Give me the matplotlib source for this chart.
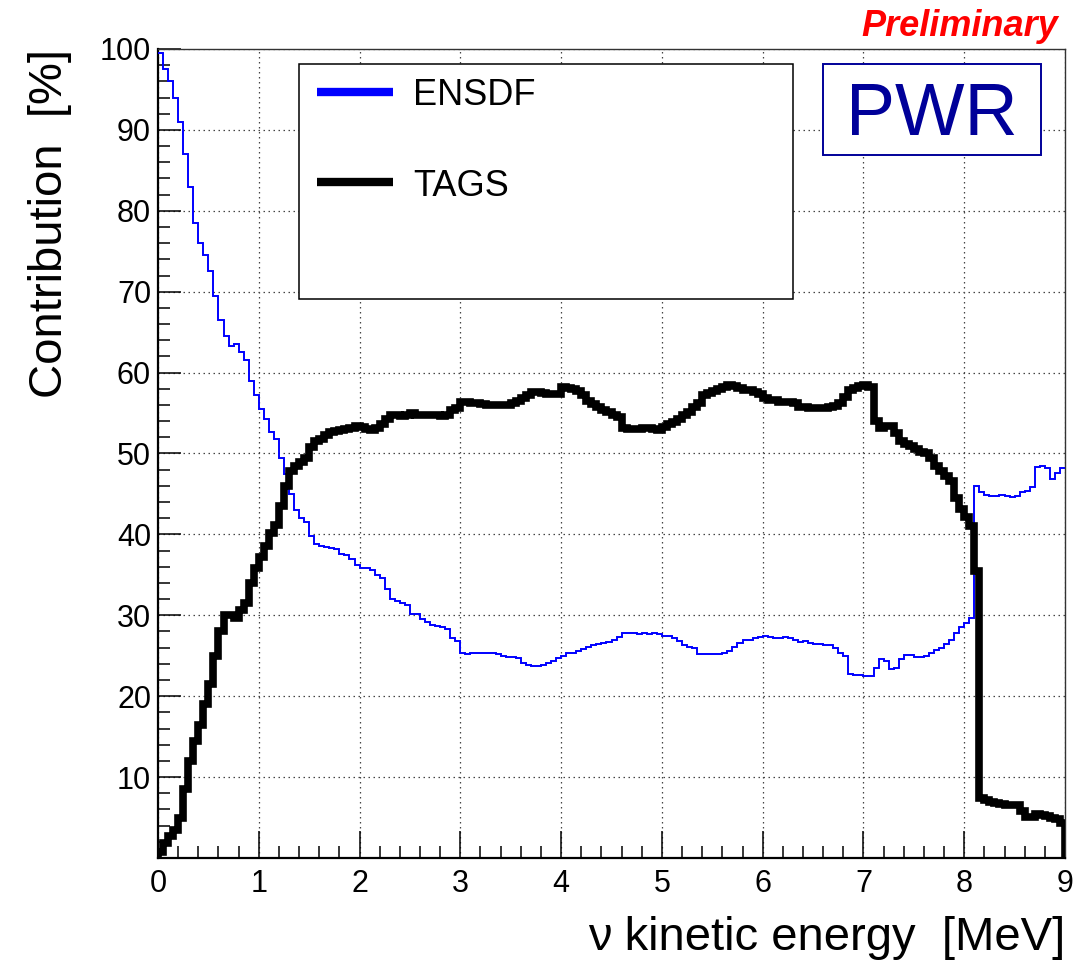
import matplotlib
matplotlib.use("Agg")
import matplotlib.pyplot as plt
from matplotlib.patches import Rectangle
from matplotlib.lines import Line2D
from matplotlib.ticker import MultipleLocator
import numpy as np

# histogram binning: 0 - 9 MeV, 50 keV bins
bin_width = 0.05
n_bins = 180

# ENSDF contribution [%] per bin (rows of 0.5 MeV)
ensdf = [
    99.5, 97.5, 96.0, 94.0, 91.0, 87.0, 83.0, 78.5, 76.0, 74.5,
    72.5, 69.5, 66.5, 64.5, 63.3, 63.5, 62.5, 61.5, 59.0, 57.2,
    55.5, 54.3, 52.6, 51.8, 49.5, 47.5, 45.0, 43.0, 42.0, 41.5,
    39.8, 38.8, 38.6, 38.5, 38.3, 38.2, 37.6, 37.5, 37.0, 36.2,
    35.9, 35.8, 35.6, 35.0, 34.6, 33.3, 32.0, 31.8, 31.5, 31.3,
    30.2, 30.1, 29.6, 29.2, 28.8, 28.7, 28.6, 28.3, 27.2, 26.8,
    25.3, 25.2, 25.4, 25.3, 25.4, 25.3, 25.3, 25.2, 25.0, 24.9,
    24.9, 24.7, 24.1, 23.8, 23.7, 23.7, 23.8, 24.1, 24.3, 24.7,
    25.0, 25.3, 25.4, 25.6, 25.8, 26.1, 26.3, 26.5, 26.6, 26.7,
    26.9, 27.3, 27.8, 27.8, 27.8, 27.7, 27.8, 27.7, 27.8, 27.7,
    27.5, 27.4, 27.2, 26.8, 26.3, 26.1, 26.0, 25.2, 25.2, 25.2,
    25.2, 25.2, 25.4, 25.6, 26.1, 26.6, 26.9, 27.0, 27.2, 27.3,
    27.4, 27.3, 27.2, 27.2, 27.3, 27.2, 26.9, 26.7, 26.8, 26.6,
    26.5, 26.4, 26.3, 26.3, 25.9, 25.4, 25.0, 22.7, 22.6, 22.6,
    22.5, 22.5, 23.5, 24.6, 24.4, 23.4, 23.5, 24.6, 25.1, 25.1,
    24.8, 24.8, 25.0, 25.3, 25.7, 26.0, 26.4, 27.0, 27.8, 28.5,
    29.0, 29.7, 46.0, 45.3, 44.9, 44.8, 44.8, 44.9, 44.8, 44.6,
    44.8, 45.2, 45.4, 45.8, 48.3, 48.5, 48.2, 46.8, 47.6, 48.2,
]

# TAGS contribution [%] per bin
tags = [
    0.8, 1.8, 2.7, 3.5, 5.0, 8.5, 12.0, 14.5, 16.5, 19.0,
    21.5, 25.0, 28.0, 30.0, 30.0, 29.7, 30.6, 31.5, 34.0, 35.8,
    37.2, 38.6, 40.2, 41.2, 43.5, 46.0, 47.8, 48.4, 49.0, 49.5,
    50.8, 51.5, 51.8, 52.3, 52.7, 52.8, 52.9, 53.0, 53.1, 53.4,
    53.3, 53.0, 52.9, 53.1, 53.6, 54.3, 54.8, 54.7, 54.6, 54.7,
    55.0, 54.8, 54.8, 54.8, 54.8, 54.7, 54.6, 54.7, 55.4, 55.6,
    56.4, 56.4, 56.3, 56.2, 56.1, 56.0, 56.0, 56.0, 56.0, 56.0,
    56.3, 56.5, 56.8, 57.2, 57.6, 57.6, 57.5, 57.4, 57.3, 57.3,
    58.2, 58.1, 58.0, 57.7, 57.2, 56.5, 56.1, 55.8, 55.4, 55.1,
    54.8, 54.5, 53.2, 53.0, 53.0, 53.0, 53.1, 53.2, 53.0, 52.9,
    53.3, 53.6, 53.9, 54.3, 54.7, 55.1, 55.7, 56.3, 57.2, 57.5,
    57.7, 58.0, 58.2, 58.5, 58.3, 58.1, 57.9, 57.8, 57.6, 57.4,
    56.8, 56.6, 56.6, 56.4, 56.4, 56.4, 56.3, 55.8, 55.7, 55.6,
    55.6, 55.6, 55.6, 55.7, 55.9, 56.2, 57.0, 57.8, 58.1, 58.3,
    58.5, 58.2, 54.0, 53.1, 53.4, 53.4, 52.5, 51.6, 51.2, 50.9,
    50.5, 50.2, 50.0, 49.5, 48.4, 47.8, 47.2, 46.6, 44.5, 43.2,
    42.2, 41.0, 35.5, 7.4, 7.2, 6.9, 6.8, 6.7, 6.6, 6.5,
    6.5, 5.8, 5.1, 5.1, 5.4, 5.3, 5.2, 5.0, 4.8, 4.3,
]

x_ticks = [0, 1, 2, 3, 4, 5, 6, 7, 8, 9]
y_ticks = [10, 20, 30, 40, 50, 60, 70, 80, 90, 100]


def main():
    plt.rcParams['font.family'] = ['Liberation Sans', 'DejaVu Sans']
    W, H = 1078, 963
    fig = plt.figure(figsize=(W / 100, H / 100), dpi=100)
    ax = fig.add_axes([158 / W, 1 - 858 / H, 907 / W, 809 / H])

    edges = np.arange(n_bins + 1) * bin_width

    ax.stairs(ensdf, edges, baseline=None, color='#0000ff', linewidth=1.4, zorder=3)
    ax.stairs(tags, edges, baseline=0, color='black', linewidth=5.5,
              joinstyle='miter', zorder=4)

    ax.set_xlim(0, 9)
    ax.set_ylim(0, 100)
    ax.set_xticks(x_ticks)
    ax.set_yticks(y_ticks)
    ax.xaxis.set_minor_locator(MultipleLocator(0.2))
    ax.yaxis.set_minor_locator(MultipleLocator(2))
    ax.tick_params(axis='both', which='both', direction='in', width=1.1,
                   labelsize=22, top=False, right=False)
    ax.tick_params(axis='x', which='major', length=19.5, pad=8)
    ax.tick_params(axis='x', which='minor', length=8.6)
    ax.tick_params(axis='y', which='major', length=16.5, pad=5)
    ax.tick_params(axis='y', which='minor', length=8.6)
    ax.grid(True, which='major', color='#444444', linestyle=(0, (1.2, 2.8)), linewidth=0.9)
    for side in ['left', 'bottom']:
        ax.spines[side].set_linewidth(1.6)
    for side in ['top', 'right']:
        ax.spines[side].set_linewidth(1.0)
        ax.spines[side].set_color('#333333')

    fig.text(50 / W, 1 - 49 / H, 'Contribution  [%]', rotation=90, ha='center',
             va='top', fontsize=34)
    fig.text(1065 / W, 1 - 950 / H, 'ν kinetic energy  [MeV]', ha='right',
             va='baseline', fontsize=34)

    # legend box
    ax.add_patch(Rectangle((0.1555, 0.691), 0.5445, 0.290, transform=ax.transAxes,
                           facecolor='white', edgecolor='black', linewidth=1.1, zorder=6))
    ax.add_line(Line2D([0.175, 0.259], [0.947, 0.947], transform=ax.transAxes,
                       color='#0000ff', linewidth=6, solid_capstyle='butt', zorder=7))
    ax.add_line(Line2D([0.175, 0.259], [0.836, 0.836], transform=ax.transAxes,
                       color='black', linewidth=6, solid_capstyle='butt', zorder=7))
    ax.text(0.281, 0.943, 'ENSDF', transform=ax.transAxes, fontsize=26,
            va='center', ha='left', zorder=8)
    ax.text(0.281, 0.830, 'TAGS', transform=ax.transAxes, fontsize=26,
            va='center', ha='left', zorder=8)

    # PWR label
    ax.add_patch(Rectangle((0.733, 0.869), 0.2405, 0.112, transform=ax.transAxes,
                           facecolor='white', edgecolor='#000099', linewidth=1.4, zorder=6))
    ax.text(0.853, 0.918, 'PWR', transform=ax.transAxes, fontsize=53,
            color='#000099', ha='center', va='center', zorder=8)

    fig.text(1058 / W, 1 - 36 / H, 'Preliminary', ha='right', va='baseline',
             fontsize=26, color='#ff0000', fontweight='bold', fontstyle='italic')

    fig.savefig('out.png', dpi=100)


if __name__ == "__main__":
    main()
